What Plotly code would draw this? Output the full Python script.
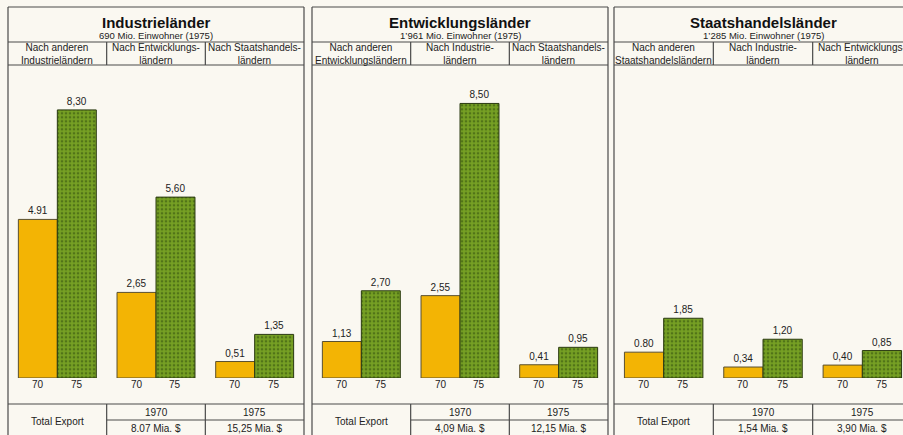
import plotly.graph_objects as go

# ---------------- data ----------------
panel_titles = ["Industrieländer", "Entwicklungsländer", "Staatshandelsländer"]
panel_population = ["690 Mio. Einwohner (1975)",
                    "1’961 Mio. Einwohner (1975)",
                    "1’285 Mio. Einwohner (1975)"]
panel_categories = [
    ["Nach anderen<br>Industrieländern", "Nach Entwicklungs-<br>ländern", "Nach Staatshandels-<br>ländern"],
    ["Nach anderen<br>Entwicklungsländern", "Nach Industrie-<br>ländern", "Nach Staatshandels-<br>ländern"],
    ["Nach anderen<br>Staatshandelsländern", "Nach Industrie-<br>ländern", "Nach Entwicklungs-<br>ländern"],
]
values_1970 = [[4.91, 2.65, 0.51], [1.13, 2.55, 0.41], [0.80, 0.34, 0.40]]
values_1975 = [[8.30, 5.60, 1.35], [2.70, 8.50, 0.95], [1.85, 1.20, 0.85]]
labels_1970 = [["4.91", "2,65", "0,51"], ["1,13", "2,55", "0,41"], ["0.80", "0,34", "0,40"]]
labels_1975 = [["8,30", "5,60", "1,35"], ["2,70", "8,50", "0,95"], ["1,85", "1,20", "0,85"]]
year_labels = ["70", "75"]
table_years = ["1970", "1975"]
totals_1970 = ["8.07 Mia. $", "4,09 Mia. $", "1,54 Mia. $"]
totals_1975 = ["15,25 Mia. $", "12,15 Mia. $", "3,90 Mia. $"]
row_label = "Total Export"

# ---------------- layout geometry (pixels) ----------------
W, H = 903, 435
panel_left = [8, 312, 614]
panel_right = [304, 608, 912]
top_y, title_line_y, header_line_y = 7, 42, 65
table_y1, table_y2 = 404, 420
base_y = 378
px_per_unit = 32.3
y_max = 9.0

FONT = "Liberation Sans, Arial, sans-serif"
LINE = "#4a4a4a"
YELLOW = "#F3B404"
GREEN_BG = "#76A024"
GREEN_FG = "#2C480C"


def fx(x):
    return x / W


def fy(y):
    return (H - y) / H


fig = go.Figure()
layout_axes = {}
annotations = []
shapes = []

y_top_px = base_y - y_max * px_per_unit
y_domain = [fy(base_y), fy(y_top_px)]


def ptext(x, y, text, size=10, color="#222"):
    annotations.append(dict(x=fx(x), y=fy(y), xref="paper", yref="paper",
                            text=text, showarrow=False, xanchor="center", yanchor="middle",
                            font=dict(family=FONT, size=size, color=color)))


for p in range(3):
    L, R = panel_left[p], panel_right[p]
    colw = (R - L) / 3
    cols = [L + i * colw for i in range(4)]
    axname = "x" if p == 0 else f"x{p + 1}"
    laykey = "xaxis" if p == 0 else f"xaxis{p + 1}"
    dom_r = min(R, W)
    xr_end = -0.5 + (dom_r - L) / colw
    layout_axes[laykey] = dict(domain=[fx(L), fx(dom_r)], range=[-0.5, xr_end],
                               visible=False, anchor="y", fixedrange=True)
    cats = panel_categories[p]
    fig.add_trace(go.Bar(
        x=cats, y=values_1970[p], text=labels_1970[p], textposition="outside",
        xaxis=axname, yaxis="y", offsetgroup="a",
        marker=dict(color=YELLOW, line=dict(color="#5a5030", width=1)),
        textfont=dict(family=FONT, size=10, color="#222"), cliponaxis=False,
        showlegend=False, hoverinfo="skip"))
    fig.add_trace(go.Bar(
        x=cats, y=values_1975[p], text=labels_1975[p], textposition="outside",
        xaxis=axname, yaxis="y", offsetgroup="b",
        marker=dict(color=GREEN_BG, line=dict(color="#2a3a10", width=1),
                    pattern=dict(shape=".", fgcolor=GREEN_FG, bgcolor=GREEN_BG,
                                 size=4, solidity=0.35)),
        textfont=dict(family=FONT, size=10, color="#222"), cliponaxis=False,
        showlegend=False, hoverinfo="skip"))

    bar_w = colw * (1 - 0.21) / 2
    for c in cats:
        for k, lab in enumerate(year_labels):
            annotations.append(dict(x=c, y=0, xref=axname, yref="y", text=lab,
                                    showarrow=False, yanchor="top", xanchor="center",
                                    xshift=(-0.5 if k == 0 else 0.5) * bar_w, yshift=1,
                                    font=dict(family=FONT, size=10, color="#222")))

    # text in headers
    cx = (L + R) / 2
    ptext(cx, 22, f"<b>{panel_titles[p]}</b>", size=15, color="#111")
    ptext(cx, 35, panel_population[p], size=9.5)
    for i in range(3):
        ccx = (cols[i] + cols[i + 1]) / 2
        ptext(ccx, 54, cats[i], size=10)
    # table text
    ptext((cols[0] + cols[1]) / 2, 421, row_label, size=10)
    for i, t in enumerate(table_years):
        ccx = (cols[i + 1] + cols[i + 2]) / 2
        ptext(ccx, 412, t, size=10)
        val = totals_1970[p] if i == 0 else totals_1975[p]
        ptext(ccx, 428, val, size=10)

    # lines
    def hline(y, x0, x1):
        shapes.append(dict(type="line", xref="paper", yref="paper",
                           x0=fx(x0), x1=fx(x1), y0=fy(y), y1=fy(y),
                           line=dict(color=LINE, width=1.2)))

    def vline(x, y0, y1):
        shapes.append(dict(type="line", xref="paper", yref="paper",
                           x0=fx(x), x1=fx(x), y0=fy(y0), y1=fy(y1),
                           line=dict(color=LINE, width=1.2)))

    hline(top_y, L, R)
    vline(L, top_y, H + 5)
    vline(R, top_y, H + 5)
    hline(title_line_y, L, R)
    hline(header_line_y, L, R)
    hline(table_y1, L, R)
    hline(table_y2, cols[1], R)
    for i in (1, 2):
        vline(cols[i], title_line_y, header_line_y)
        vline(cols[i], table_y1, H + 5)

fig.update_layout(
    width=W, height=H,
    margin=dict(l=0, r=0, t=0, b=0),
    paper_bgcolor="#FAF8F1", plot_bgcolor="rgba(0,0,0,0)",
    barmode="group", bargap=0.21, bargroupgap=0,
    yaxis=dict(domain=y_domain, range=[0, y_max], visible=False, fixedrange=True),
    annotations=annotations, shapes=shapes,
    **layout_axes,
)

fig.write_html("out.html", config={"displayModeBar": False},
               post_script="document.body.style.margin='0';document.body.style.overflow='hidden';")
